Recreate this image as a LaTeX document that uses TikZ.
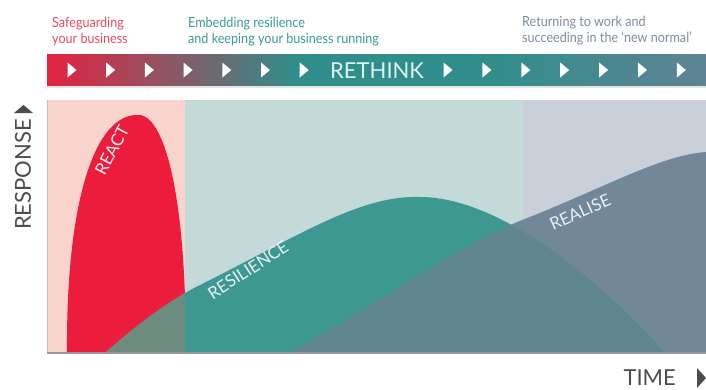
\documentclass[tikz,border=0pt]{standalone}
\usepackage{fontspec}
\setmainfont{Lato}
\newfontfamily\narrowfont[FakeStretch=0.9]{Lato}
\definecolor{zpink}{HTML}{F8D4CD}
\definecolor{zteal}{HTML}{C3DAD8}
\definecolor{zgrey}{HTML}{CAD0D9}
\definecolor{reactred}{HTML}{EC1C3C}
\definecolor{resteal}{HTML}{3D9891}
\definecolor{realblue}{HTML}{72879A}
\definecolor{overlapc}{HTML}{5F8592}
\definecolor{resred}{HTML}{6E8B7F}
\definecolor{bred}{HTML}{E4223F}
\definecolor{bteal}{HTML}{2F8E8B}
\definecolor{bslate}{HTML}{5E8394}
\definecolor{labred}{HTML}{E84A5F}
\definecolor{labteal}{HTML}{3A9A90}
\definecolor{labgrey}{HTML}{7D8C9C}
\definecolor{axisgrey}{HTML}{4D4D4D}
\definecolor{curvetext}{HTML}{E6F0EF}
\definecolor{rethinkc}{HTML}{DDF3F1}
\pgfdeclarehorizontalshading{banner}{100bp}{color(0bp)=(bred); color(25bp)=(bred); color(44bp)=(bteal); color(58bp)=(bteal); color(75bp)=(bslate); color(100bp)=(bslate)}
\tikzset{
  toplabel/.style={anchor=base west, inner sep=0pt, font=\narrowfont\fontsize{14}{16}\selectfont, align=left},
  tri/.style={fill=white},
  curvelabel/.style={text=curvetext, font=\fontsize{17}{17}\selectfont, inner sep=0pt},
  axislabel/.style={text=axisgrey, font=\fontsize{22}{22}\selectfont, inner sep=0pt}
}
\def\respath{(105,353) .. controls (140,322) and (170,300) .. (200,285) .. controls (300,235) and (360,195) .. (420,197) .. controls (500,197) and (600,280) .. (665,353) -- cycle}
\def\realpath{(290,353) .. controls (360,315) and (460,245) .. (522,220) .. controls (600,190) and (660,155) .. (706,152) -- (706,353) -- cycle}
\begin{document}
\begin{tikzpicture}[x=1pt,y=-1pt]
\useasboundingbox (0,0) rectangle (706,389);
% top labels
\node[toplabel, text=labred] (lab1) at (52,27) {Safeguarding};
\node[toplabel, text=labred] (lab1b) at (52,43) {your business};
\node[toplabel, text=labteal] (lab2) at (188,27) {Embedding resilience};
\node[toplabel, text=labteal] (lab2b) at (188,43) {and keeping your business running};
\node[toplabel, text=labgrey] (lab3) at (522,26) {Returning to work and};
\node[toplabel, text=labgrey] (lab3b) at (522,42) {succeeding in the ‘new normal’};
% banner
\fill[black!10] (47,85) rectangle (706,88);
\shade[shading=banner] (47,54) rectangle (706,85);
\foreach \cx in {72,110.7,149.4,188.1,226.8,265.5,304.2,448,486.9,525.8,564.7,603.6,642.5,681.4}
  \fill[tri] (\cx-4.5,62.5) -- (\cx+4.5,70) -- (\cx-4.5,77.5) -- cycle;
\node[anchor=base west, inner sep=0pt, text=rethinkc, font=\fontsize{22}{22}\selectfont] (rethink) at (330,78) {RETHINK};
% zones
\fill[zpink] (47,100) rectangle (185,353);
\fill[zteal] (185,100) rectangle (523,353);
\fill[zgrey] (523,100) rectangle (706,353);
% react
\begin{scope}
\clip (47,100) rectangle (185,353);
\fill[reactred] (67,353) .. controls (66,200) and (95,115) .. (137,115) .. controls (160,112) and (186,175) .. (186,353) -- cycle;
\end{scope}
% resilience
\fill[resteal] \respath;
\begin{scope}
\clip (47,100) rectangle (185,353);
\fill[resred] \respath;
\end{scope}
% realise
\fill[realblue] \realpath;
\begin{scope}
\clip \respath;
\fill[overlapc] \realpath;
\end{scope}
% frame
\draw[black!25, line width=0.8pt] (47,100) -- (47,353);
\draw[black!40, line width=1.5pt] (47,353) -- (706,353);
% curve labels
\node[curvelabel, rotate=62] (react) at (112,150) {REACT};
\node[curvelabel, rotate=33] (resil) at (248,270) {RESILIENCE};
\node[curvelabel, rotate=24] (realise) at (580,212) {REALISE};
% axes
\node[axislabel, rotate=90, anchor=west] (resp) at (23,230) {RESPONSE};
\fill[axisgrey] (14,113) -- (33,113) -- (23.5,105) -- cycle;
\node[axislabel, anchor=base east] (time) at (676,385) {TIME};
\fill[axisgrey] (697,368) -- (706,378) -- (697,388) -- cycle;
\end{tikzpicture}
\end{document}
